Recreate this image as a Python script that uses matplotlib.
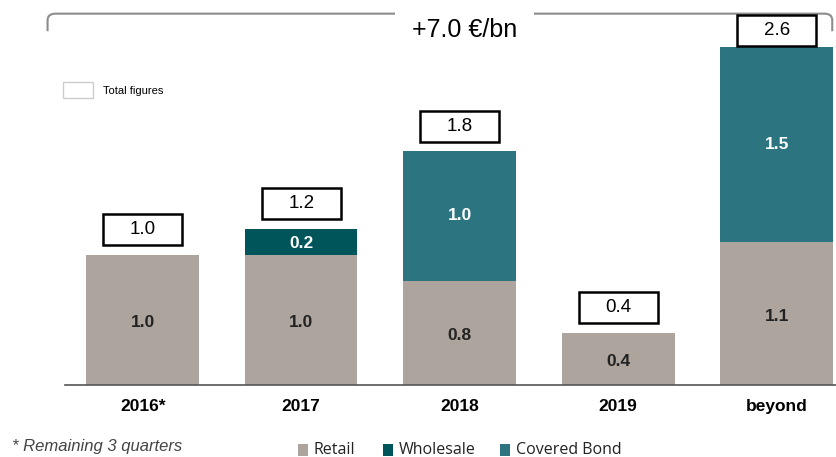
import matplotlib
matplotlib.use("Agg")
from matplotlib import pyplot as plt
from matplotlib.patches import Rectangle, PathPatch
from matplotlib.path import Path
import numpy as np

plt.rcParams["font.family"] = ["Liberation Sans", "DejaVu Sans"]

years = ["2016*", "2017", "2018", "2019", "beyond"]
retail = [1.0, 1.0, 0.8, 0.4, 1.1]
wholesale = [0.0, 0.2, 0.0, 0.0, 0.0]
covered = [0.0, 0.0, 1.0, 0.0, 1.5]
totals = [1.0, 1.2, 1.8, 0.4, 2.6]
headline = "+7.0 €/bn"

cRetail = "#ada59d"
cWholesale = "#00555a"
cCovered = "#2b7480"

fig = plt.figure(figsize=(8.37, 4.57), dpi=100)
ax = fig.add_axes([65 / 837, 72 / 457, 772 / 837, 385 / 457])

x = np.arange(len(years))
w = 0.71
retail = np.array(retail)
wholesale = np.array(wholesale)
covered = np.array(covered)

ax.bar(x, retail, w, color=cRetail)
ax.bar(x, wholesale, w, bottom=retail, color=cWholesale)
ax.bar(x, covered, w, bottom=retail + wholesale, color=cCovered)

# segment labels
for i in range(len(years)):
    ax.text(x[i], retail[i] / 2 - 0.02, f"{retail[i]:.1f}", ha="center", va="center",
            fontsize=12.5, fontweight="bold", color="#222222")
    if wholesale[i] > 0:
        ax.text(x[i], retail[i] + wholesale[i] / 2 - 0.01, f"{wholesale[i]:.1f}", ha="center",
                va="center", fontsize=12.5, fontweight="bold", color="white")
    if covered[i] > 0:
        ax.text(x[i], retail[i] + wholesale[i] + covered[i] / 2, f"{covered[i]:.1f}",
                ha="center", va="center", fontsize=12.5, fontweight="bold", color="white")

# total boxes above bars
bw, bh = 0.5, 0.235
gaps = [0.08, 0.08, 0.07, 0.08, 0.01]
for i, t in enumerate(totals):
    y0 = t + gaps[i]
    ax.add_patch(Rectangle((x[i] - bw / 2, y0), bw, bh, facecolor="white",
                           edgecolor="black", lw=1.8, clip_on=False, zorder=3))
    ax.text(x[i], y0 + bh / 2, f"{t:.1f}", ha="center", va="center",
            fontsize=13.5, zorder=4)

ax.set_xlim(-0.49, 4.38)
ax.set_ylim(0, 2.96)
ax.set_xticks(x)
ax.set_xticklabels(years, fontsize=12.5, fontweight="bold")
ax.tick_params(axis="x", length=0, pad=10)
ax.set_yticks([])
for s in ["top", "left", "right"]:
    ax.spines[s].set_visible(False)
ax.spines["bottom"].set_color("#555555")
ax.spines["bottom"].set_linewidth(1.2)

# bracket across the top
xl, xr, yt, yb, r = -0.6, 4.35, 2.855, 2.72, 0.05
verts = [(xl, yb), (xl, yt - r), (xl, yt), (xl + r, yt), (xr - r, yt), (xr, yt), (xr, yt - r), (xr, yb)]
codes = [Path.MOVETO, Path.LINETO, Path.CURVE3, Path.CURVE3, Path.LINETO, Path.CURVE3, Path.CURVE3, Path.LINETO]
ax.add_patch(PathPatch(Path(verts, codes), facecolor="none", edgecolor="#8c8c8c", lw=1.5, clip_on=False))
ax.text(2.03, 2.73, headline, ha="center", va="center", fontsize=18, zorder=5,
        bbox=dict(facecolor="white", edgecolor="none", pad=12))

# "Total figures" key
fig.patches.append(Rectangle((63 / 837, 1 - 98 / 457), 30 / 837, 16 / 457, transform=fig.transFigure,
                             facecolor="white", edgecolor="#cccccc", lw=1))
fig.text(103 / 837, 1 - 91 / 457, "Total figures", fontsize=8, va="center")

# bottom legend
legend = [("Retail", cRetail, 298), ("Wholesale", cWholesale, 383), ("Covered Bond", cCovered, 500)]
for label, col, px in legend:
    fig.patches.append(Rectangle((px / 837, 1 - 456 / 457), 10 / 837, 12 / 457,
                                 transform=fig.transFigure, facecolor=col, edgecolor="none"))
    fig.text((px + 16) / 837, 1 - 450 / 457, label, fontsize=11.5, va="center",
             family="Open Sans", color="#222222")

fig.text(12 / 837, 1 - 446 / 457, "* Remaining 3 quarters", fontsize=12, style="italic",
         color="#444444", va="center")

fig.savefig("out.png", dpi=100)
